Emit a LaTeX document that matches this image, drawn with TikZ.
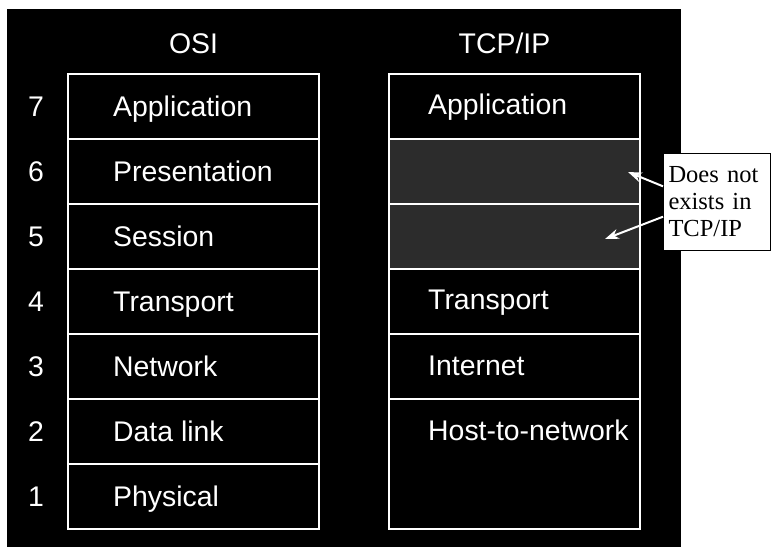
\documentclass[tikz,border=0pt]{standalone}
\usepackage{fontspec}
\setmainfont{Liberation Serif}
\newfontfamily\labelfont{Liberation Sans}
\usetikzlibrary{arrows.meta,calc}
\definecolor{shade}{RGB}{44,44,44}
\begin{document}
\begin{tikzpicture}[x=1pt,y=-1pt,
  layer/.style={draw=white,line width=2pt,minimum width=251pt,minimum height=65pt,
    inner sep=0pt,anchor=north west},
  missing/.style={layer,fill=shade},
  lbl/.style={text=white,inner sep=0pt,font=\labelfont\fontsize{28.4pt}{32pt}\selectfont},
  layertext/.style={lbl,anchor=base west},
  numtext/.style={lbl,anchor=base},
  headtext/.style={lbl,anchor=base},
  callout/.style={draw=black,line width=1pt,fill=white,anchor=north west,
    minimum width=107pt,minimum height=97pt,text width=97pt,inner xsep=5pt,
    align=left,font=\fontsize{24.5pt}{27pt}\selectfont},
  pointer/.style={draw=white,line width=2pt,-{Stealth[length=14pt,width=10pt]}}
]
\useasboundingbox (0,0) rectangle (771,547);
\fill[white] (0,0) rectangle (771,547);
\fill[black] (7,9) rectangle (681,547);

% OSI stack
\node[layer] (o7) at (67,73)  {};
\node[layer] (o6) at (67,138) {};
\node[layer] (o5) at (67,203) {};
\node[layer] (o4) at (67,268) {};
\node[layer] (o3) at (67,333) {};
\node[layer] (o2) at (67,398) {};
\node[layer] (o1) at (67,463) {};

% TCP/IP stack
\node[layer] (t7) at (388,73) {};
\node[missing] (t6) at (388,138) {};
\node[missing] (t5) at (388,203) {};
\node[layer] (t4) at (388,268) {};
\node[layer] (t3) at (388,333) {};
\node[layer,minimum height=130pt] (t2) at (388,398) {};

% titles
\node[headtext] (osi) at ($(o7.north)+(0,-20)$) {OSI};
\node[headtext] (tcp) at ($(t7.north)+(-10,-20)$) {TCP/IP};

% layer numbers
\foreach \i in {7,...,1}
  \node[numtext] (n\i) at ($(o\i.west)+(-31,10)$) {\i};

% OSI layer names
\node[layertext] (a7) at ($(o7.west)+(46,10)$) {Application};
\node[layertext] (a6) at ($(o6.west)+(46,10)$) {Presentation};
\node[layertext] (a5) at ($(o5.west)+(46,10)$) {Session};
\node[layertext] (a4) at ($(o4.west)+(46,10)$) {Transport};
\node[layertext] (a3) at ($(o3.west)+(46,10)$) {Network};
\node[layertext] (a2) at ($(o2.west)+(46,10)$) {Data link};
\node[layertext] (a1) at ($(o1.west)+(46,10)$) {Physical};

% TCP/IP layer names
\node[layertext] (b7) at ($(t7.west)+(40,8)$) {Application};
\node[layertext] (b4) at ($(t4.west)+(40,8)$) {Transport};
\node[layertext] (b3) at ($(t3.west)+(40,9)$) {Internet};
\node[layertext] (b2) at ($(t2.north west)+(40,42)$) {Host-to-network};

% callout
\node[callout] (note) at (663,153) {Does not\\exists in\\TCP/IP};
\coordinate (p6) at (628,172);
\coordinate (p5) at (605,239);
\draw[pointer] ($(note.north west)!0.34!(note.south west)$) -- (p6);
\draw[pointer] ($(note.north west)!0.65!(note.south west)$) -- (p5);
\end{tikzpicture}
\end{document}
